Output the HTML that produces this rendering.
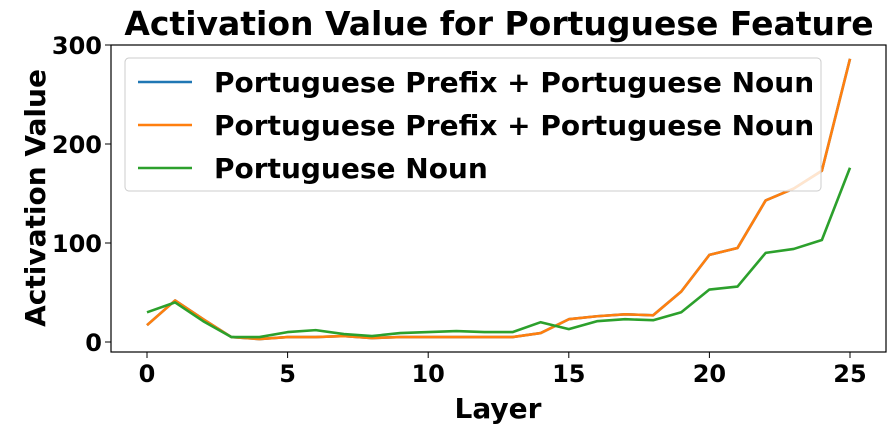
<!DOCTYPE html>
<html><head><meta charset="utf-8"><style>
body{margin:0;background:#fff;}
svg{display:block;font-family:"DejaVu Sans","Liberation Sans",sans-serif;font-weight:bold;}
</style></head><body>
<svg id="chart" width="896" height="433"></svg>
<script>
const layers=[0,1,2,3,4,5,6,7,8,9,10,11,12,13,14,15,16,17,18,19,20,21,22,23,24,25];
const prefixNounA=[17,42,23,5,3,5,5,6,4,5,5,5,5,5,9,23,26,28,27,51,88,95,143,155,173,286];
const prefixNounB=[17,42,23,5,3,5,5,6,4,5,5,5,5,5,9,23,26,28,27,51,88,95,143,155,173,286];
const nounOnly=[30,40,21,5,5,10,12,8,6,9,10,11,10,10,20,13,21,23,22,30,53,56,90,94,103,176];
const xTicks=[0,5,10,15,20,25];
const yTicks=[0,100,200,300];
const seriesNames=["Portuguese Prefix + Portuguese Noun","Portuguese Prefix + Portuguese Noun","Portuguese Noun"];

const NS="http://www.w3.org/2000/svg";
const svg=document.getElementById('chart');
const L=111,R=886,T=45,B=352;
const xs=v=>147+(v/25)*(850-147);
const ys=v=>342-(v/300)*(342-45);
function mk(tag,attrs,parent){const e=document.createElementNS(NS,tag);for(const k in attrs)e.setAttribute(k,attrs[k]);(parent||svg).appendChild(e);return e;}

const title=mk('text',{x:499,y:35,'text-anchor':'middle','font-size':33});
title.textContent="Activation Value for Portuguese Feature";



xTicks.forEach(t=>{
  const l=mk('line',{x1:xs(t),x2:xs(t),y1:B,y2:B+6,stroke:'#000','stroke-width':1});
  
  
  const tx=mk('text',{x:xs(t),y:B+30,'text-anchor':'middle','font-size':24});
  tx.textContent=t;
  
  
});
yTicks.forEach(t=>{
  const l=mk('line',{x1:L-6,x2:L,y1:ys(t),y2:ys(t),stroke:'#000','stroke-width':1});
  
  
  const tx=mk('text',{x:L-9,y:ys(t)+9,'text-anchor':'end','font-size':24});
  tx.textContent=t;
  
  
});
const xl=mk('text',{x:498,y:418,'text-anchor':'middle','font-size':28});
xl.textContent="Layer";


const yl=mk('text',{x:0,y:0,'text-anchor':'middle','font-size':28,transform:'translate(45,198) rotate(-90)'});
yl.textContent="Activation Value";



const colors=['#1f77b4','#ff7f0e','#2ca02c'];
[prefixNounA,prefixNounB,nounOnly].forEach((s,i)=>{
  const p=mk('polyline',{points:s.map((v,j)=>xs(layers[j])+','+ys(v)).join(' '),fill:'none',stroke:colors[i],'stroke-width':2.6,'stroke-linejoin':'round'});
  
  
});

const frame=mk('rect',{x:L,y:T,width:R-L,height:B-T,fill:'none',stroke:'#000','stroke-width':1.2});



const lg=mk('rect',{x:125,y:58,width:696,height:133,rx:4,fill:'rgba(255,255,255,0.8)',stroke:'#ccc','stroke-width':1});


seriesNames.forEach((n,i)=>{
  const y=82+i*43;
  const l=mk('line',{x1:138,x2:192,y1:y,y2:y,stroke:colors[i],'stroke-width':2.6});
  
  
  const t=mk('text',{x:214,y:y+10,'font-size':28});
  t.textContent=n;
  
  
});
</script>
</body></html>
